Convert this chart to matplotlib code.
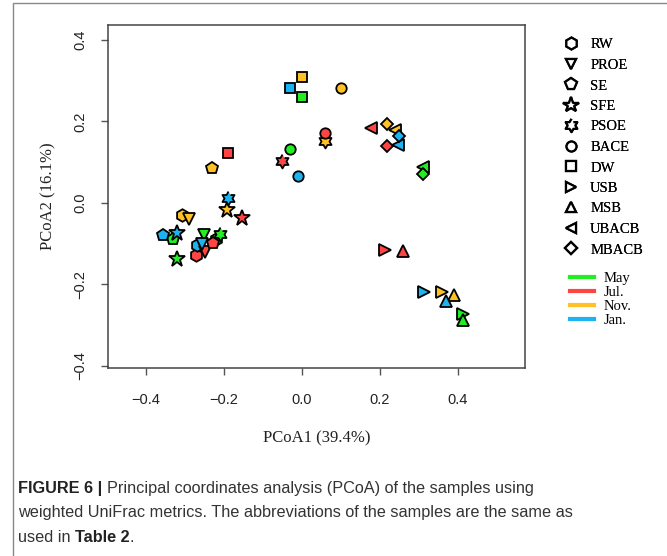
import numpy as np
import matplotlib
matplotlib.use("Agg")
import matplotlib.pyplot as plt
from matplotlib.lines import Line2D
from matplotlib.patches import Rectangle

# samples and months
samples = ['RW', 'PROE', 'SE', 'SFE', 'PSOE', 'BACE', 'DW', 'USB', 'MSB', 'UBACB', 'MBACB']
months = ['May', 'Jul.', 'Nov.', 'Jan.']
month_colors = ['#22EE22', '#FF4444', '#FFC125', '#1CB4F0']

# PCoA coordinates, one list per month (same order as samples)
may_x = [-0.220, -0.250, -0.330, -0.320, -0.209, -0.030, 0.000, 0.413, 0.413, 0.312, 0.312]
may_y = [-0.090, -0.080, -0.090, -0.137, -0.077, 0.132, 0.261, -0.274, -0.288, 0.087, 0.070]
jul_x = [-0.272, -0.248, -0.228, -0.152, -0.050, 0.060, -0.188, 0.213, 0.260, 0.177, 0.218]
jul_y = [-0.128, -0.120, -0.100, -0.037, 0.103, 0.172, 0.123, -0.116, -0.119, 0.183, 0.139]
nov_x = [-0.306, -0.288, -0.230, -0.192, 0.060, 0.100, 0.000, 0.359, 0.390, 0.240, 0.220]
nov_y = [-0.029, -0.041, 0.086, -0.018, 0.152, 0.282, 0.310, -0.219, -0.227, 0.180, 0.194]
jan_x = [-0.269, -0.256, -0.355, -0.320, -0.190, -0.009, -0.030, 0.314, 0.370, 0.248, 0.250]
jan_y = [-0.104, -0.102, -0.078, -0.074, 0.012, 0.066, 0.282, -0.219, -0.241, 0.142, 0.163]

xs = [may_x, jul_x, nov_x, jan_x]
ys = [may_y, jul_y, nov_y, jan_y]

# six pointed star marker
ang = np.pi / 2 + np.arange(12) * np.pi / 6
rad = np.where(np.arange(12) % 2 == 0, 1.0, 0.577)
hexagram = list(zip(rad * np.cos(ang), rad * np.sin(ang)))

markers = ['h', 'v', 'p', '*', hexagram, 'o', 's', '>', '^', '<', 'D']
msizes = [9, 8, 9, 12, 10, 7.5, 7, 8, 8, 8, 6.5]

serif = 'Liberation Serif'
sans = 'Liberation Sans'

fig = plt.figure(figsize=(6.67, 5.56), dpi=100)
ax = fig.add_axes([108 / 667, 1 - 368 / 556, 417 / 667, 343 / 556])

for si in range(len(samples)):
    for mi in range(len(months)):
        ax.plot(xs[mi][si], ys[mi][si], linestyle='none', marker=markers[si],
                markersize=msizes[si], markerfacecolor=month_colors[mi],
                markeredgecolor='black', markeredgewidth=1.3)

ax.set_xlim(-0.497, 0.573)
ax.set_ylim(-0.406, 0.437)
ax.set_xticks([-0.4, -0.2, 0.0, 0.2, 0.4])
ax.set_yticks([-0.4, -0.2, 0.0, 0.2, 0.4])
ax.set_xticklabels(['\u22120.4', '\u22120.2', '0.0', '0.2', '0.4'])
ax.set_yticklabels(['\u22120.4', '\u22120.2', '0.0', '0.2', '0.4'], rotation=90, va='center')
ax.tick_params(length=5, width=1, color='#555555', labelsize=10.5, labelcolor='#222222')
ax.tick_params(axis='x', pad=13)
ax.tick_params(axis='y', pad=10)
for lab in ax.get_xticklabels() + ax.get_yticklabels():
    lab.set_fontfamily(sans)
for sp in ax.spines.values():
    sp.set_color('#444444')
    sp.set_linewidth(1.1)

ax.set_xlabel('PCoA1 (39.4%)', fontfamily=serif, fontsize=12, labelpad=17, color='#222222')
ax.set_ylabel('PCoA2 (16.1%)', fontfamily=serif, fontsize=12, labelpad=12, color='#222222')

# shape legend
shape_handles = [Line2D([], [], linestyle='none', marker=markers[i], markersize=msizes[i] * 0.95,
                        markerfacecolor='white', markeredgecolor='black', markeredgewidth=1.6)
                 for i in range(len(samples))]
leg1 = fig.legend(shape_handles, samples, loc='upper left', bbox_to_anchor=(553 / 667, 1 - 31 / 556),
                  frameon=False, prop={'family': serif, 'size': 10.5}, labelspacing=0.5,
                  handletextpad=0.55, handlelength=1.5, borderpad=0)
fig.add_artist(leg1)

# month legend
line_handles = [Line2D([], [], color=c, linewidth=3) for c in month_colors]
fig.legend(line_handles, months, loc='upper left', bbox_to_anchor=(563 / 667, 1 - 265 / 556),
           frameon=False, prop={'family': serif, 'size': 10.5}, labelspacing=0.05,
           handletextpad=0.7, handlelength=1.6, borderpad=0)

# outer frame
fig.add_artist(Rectangle((13 / 667, -0.02), 1.0, 1.015, transform=fig.transFigure,
                         fill=False, edgecolor='#888888', linewidth=1))

# caption
cap_size = 11.7
renderer = fig.canvas.get_renderer()
x0 = 18 / 667
t1 = fig.text(x0, 1 - 488 / 556, 'FIGURE 6 | ', fontfamily=sans, fontweight='bold',
              fontsize=cap_size, va='center', color='#222222')
w1 = t1.get_window_extent(renderer).width / fig.bbox.width
fig.text(x0 + w1, 1 - 488 / 556, 'Principal coordinates analysis (PCoA) of the samples using',
         fontfamily=sans, fontsize=cap_size, va='center', color='#333333')
fig.text(x0, 1 - 512 / 556, 'weighted UniFrac metrics. The abbreviations of the samples are the same as',
         fontfamily=sans, fontsize=cap_size, va='center', color='#333333')
t3 = fig.text(x0, 1 - 537 / 556, 'used in ', fontfamily=sans, fontsize=cap_size, va='center', color='#333333')
w3 = t3.get_window_extent(renderer).width / fig.bbox.width
t4 = fig.text(x0 + w3, 1 - 537 / 556, 'Table 2', fontfamily=sans, fontweight='bold',
              fontsize=cap_size, va='center', color='#222222')
w4 = t4.get_window_extent(renderer).width / fig.bbox.width
fig.text(x0 + w3 + w4, 1 - 537 / 556, '.', fontfamily=sans, fontsize=cap_size, va='center', color='#333333')

fig.savefig('out.png', dpi=100)
